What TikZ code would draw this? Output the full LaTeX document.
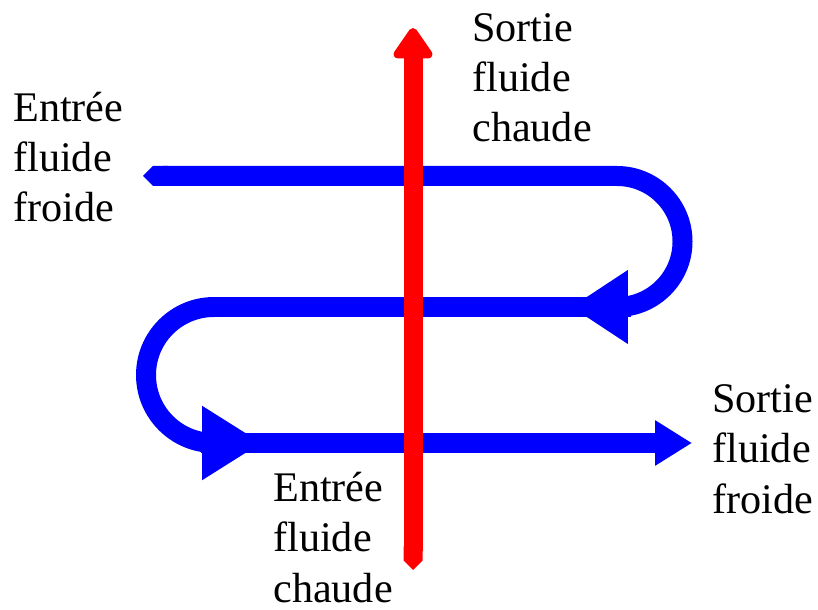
\documentclass[tikz,border=0pt]{standalone}
\usepackage{fontspec}
\setmainfont{Liberation Serif}
\usetikzlibrary{arrows.meta}
\definecolor{hotred}{RGB}{255,0,0}
\definecolor{coldblue}{RGB}{0,0,255}
\tikzset{
  flowtext/.style={font=\fontsize{24}{28.5}\selectfont, align=left, anchor=base west, inner sep=0pt},
  cold/.style={draw=coldblue, line width=0.4cm},
  hot/.style={draw=hotred, line width=0.38cm},
}
\begin{document}
\begin{tikzpicture}[x=0.02cm, y=0.02cm]
  \useasboundingbox (0,0) rectangle (818,609);

  % cold fluid, snaking from left to right
  \coordinate (coldin) at (143,433);
  \coordinate (rightturn) at (617,433);
  \coordinate (leftturn) at (214,302);
  \coordinate (coldout) at (692,166);
  \draw[cold, {Triangle Cap[]}-{Triangle[length=0.74cm, width=0.86cm]}]
    (coldin) -- (rightturn) arc[start angle=90, end angle=-90, radius=65.5]
    -- (leftturn) arc[start angle=90, end angle=270, radius=68] -- (coldout);

  % heads along the way
  \coordinate (midback) at (631,302);
  \coordinate (midtip) at (571,302);
  \coordinate (lowback) at (201,166);
  \coordinate (lowtip) at (262,166);
  \draw[cold, -{Triangle[length=1.14cm, width=1.4cm]}] (midback) -- (midtip);
  \draw[cold, -{Triangle[length=1.2cm, width=1.4cm]}] (lowback) -- (lowtip);

  % hot fluid, straight up
  \coordinate (hotin) at (413,39);
  \coordinate (hotout) at (413,581);
  \draw[hot, {Triangle Cap[]}-{Triangle[length=0.68cm, width=0.88cm, round]}] (hotin) -- (hotout);

  % labels (base = last line)
  \node[flowtext] (coldinlbl) at (13,387) {Entrée\\fluide\\froide};
  \node[flowtext] (hotoutlbl) at (472,467) {Sortie\\fluide\\chaude};
  \node[flowtext] (hotinlbl) at (273,7) {Entrée\\fluide\\chaude};
  \node[flowtext] (coldoutlbl) at (712,96) {Sortie\\fluide\\froide};
\end{tikzpicture}
\end{document}
